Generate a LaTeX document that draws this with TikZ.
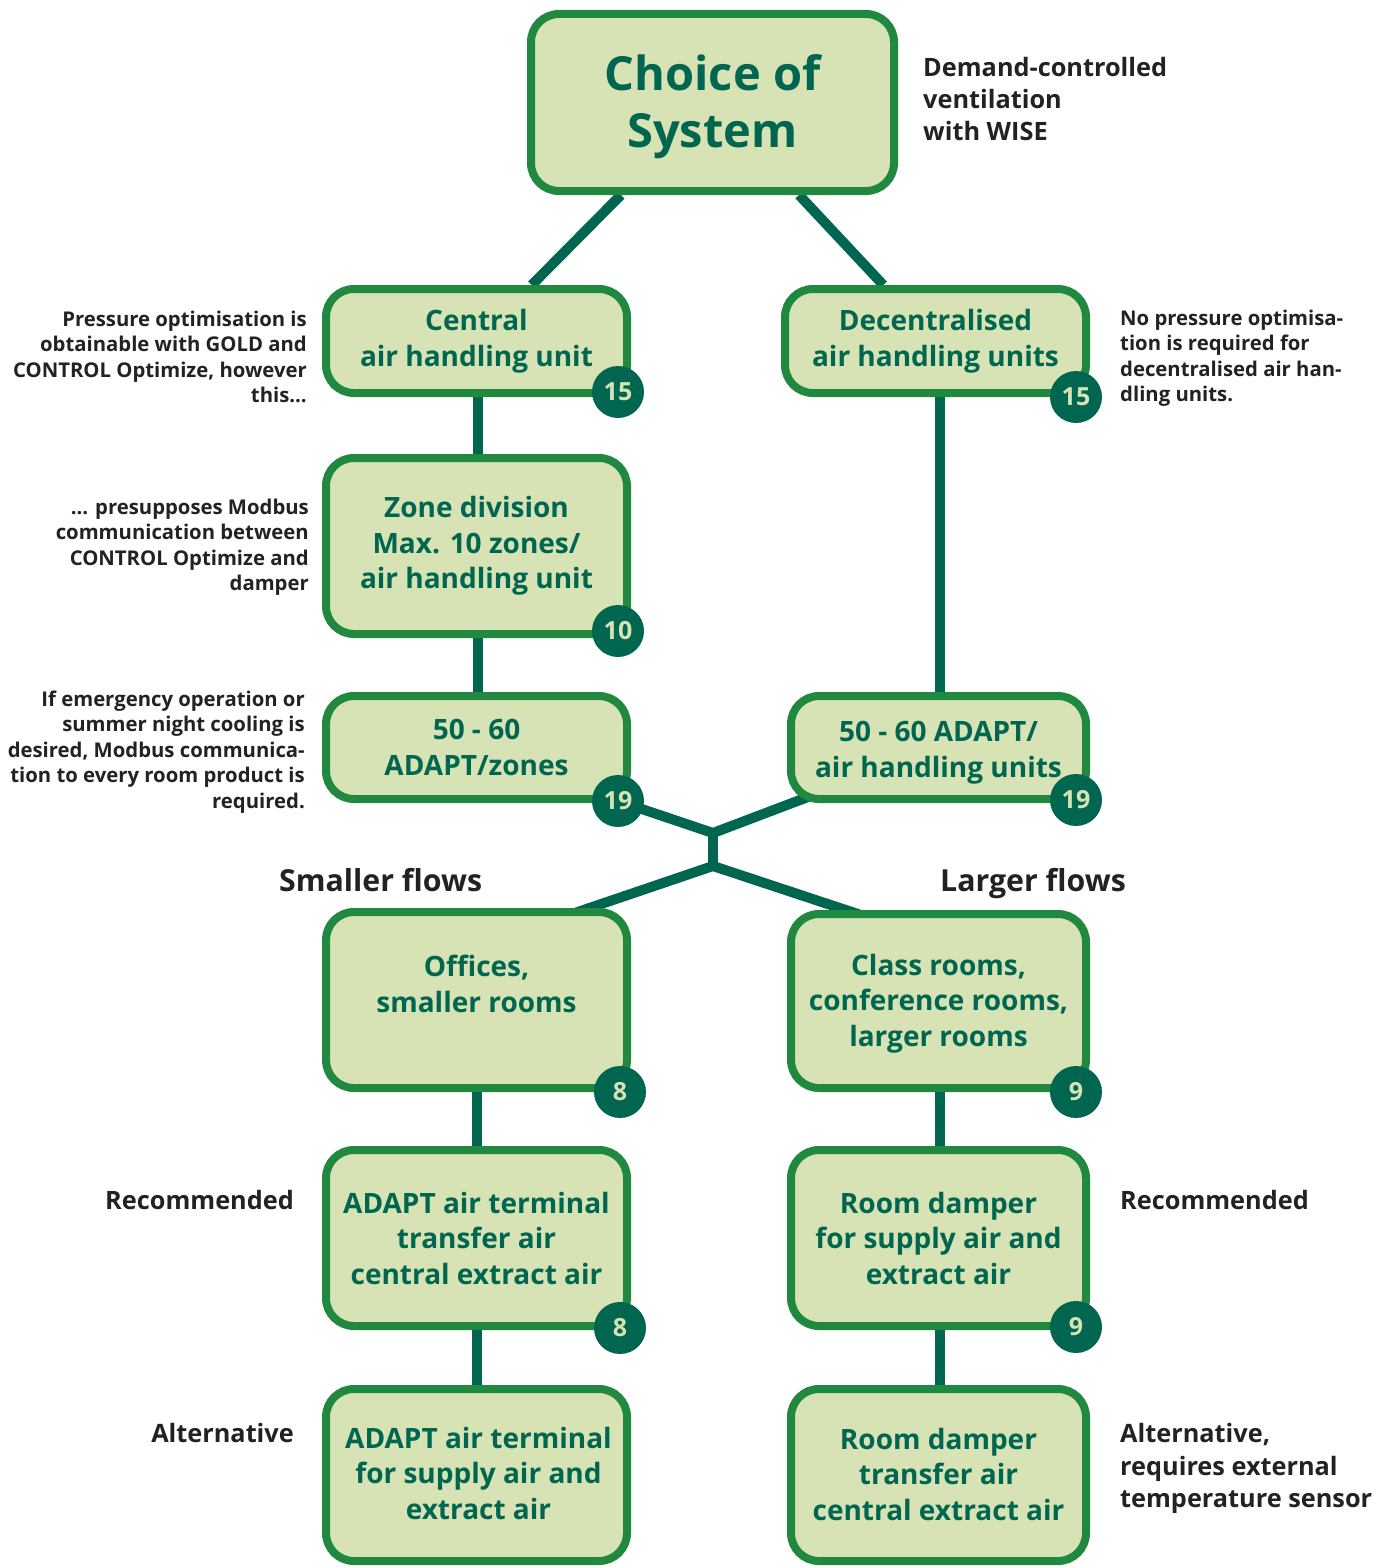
\documentclass[tikz,border=0pt]{standalone}
\usepackage{fontspec}
\setmainfont{Open Sans}
\usetikzlibrary{calc}
\definecolor{boxfill}{HTML}{D7E3B4}
\definecolor{boxline}{HTML}{21893F}
\definecolor{dteal}{HTML}{00664F}
\definecolor{txt}{HTML}{222222}
\pgfdeclarelayer{back}
\pgfdeclarelayer{bg}
\pgfsetlayers{back,bg,main}
\begin{document}
\begin{tikzpicture}[x=1pt,y=-1pt,
  box/.style={draw=boxline, line width=8pt, fill=boxfill, rounded corners=28pt,
    align=center, text=dteal, font=\bfseries\fontsize{28}{35.5}\selectfont, inner sep=0pt},
  boxtext/.style={align=center, text=dteal, font=\bfseries\fontsize{28}{35.5}\selectfont, inner sep=0pt},
  num/.style={circle, fill=dteal, minimum size=52pt, inner sep=0pt, text=boxfill,
    font=\bfseries\fontsize{25}{25}\selectfont},
  conn/.style={draw=dteal, line width=10pt},
  note/.style={text=txt, font=\bfseries\fontsize{20.3}{25.5}\selectfont, inner sep=0pt},
  bignote/.style={text=txt, font=\bfseries\fontsize{25.3}{32.3}\selectfont, inner sep=0pt},
  head/.style={text=txt, font=\bfseries\fontsize{30.3}{32}\selectfont, inner sep=0pt},
]
\begin{pgfonlayer}{back}
\fill[white] (0,0) rectangle (1386,1568);
\end{pgfonlayer}
\useasboundingbox (0,0) rectangle (1386,1568);

% boxes
\node[box, minimum width=363pt, minimum height=177pt] (top) at (712.5,102.5) {};
\node[boxtext, font=\bfseries\fontsize{47}{57}\selectfont] (toptext) at (712.5,107) {Choice of\\System};
\node[box, minimum width=301pt, minimum height=104pt] (central) at (476.5,341) {Central\\air handling unit};
\node[box, minimum width=301pt, minimum height=104pt] (decentral) at (935.5,341) {Decentralised\\air handling units};
\node[box, minimum width=301pt, minimum height=176pt] (zone) at (476.5,546) {Zone division\\Max. 10 zones/\\air handling unit};
\node[box, minimum width=301pt, minimum height=103pt] (adaptL) at (476.5,747.5) {50 - 60\\ADAPT/zones};
\node[box, minimum width=295pt, minimum height=103pt] (adaptR) at (938.5,747.5) {};
\node[boxtext] (adaptRtext) at (938.5,752.5) {50 - 60 ADAPT/\\air handling units};
\node[box, minimum width=301pt, minimum height=176pt] (offices) at (476.5,1000) {};
\node[boxtext] (officestext) at (476.5,984) {Offices,\\smaller rooms};
\node[box, minimum width=295pt, minimum height=174pt] (classrooms) at (938.5,1001) {};
\node[boxtext] (classtext) at (938.5,1003.5) {Class rooms,\\conference rooms,\\larger rooms};
\node[box, minimum width=301pt, minimum height=176pt] (termL) at (476.5,1238) {ADAPT air terminal\\transfer air\\central extract air};
\node[box, minimum width=295pt, minimum height=176pt] (damperR) at (938.5,1238) {Room damper\\for supply air and\\extract air};
\node[box, minimum width=301pt, minimum height=172pt] (termL2) at (476.5,1475) {};
\node[boxtext] (termL2text) at (478.5,1473) {ADAPT air terminal\\for supply air and\\extract air};
\node[box, minimum width=295pt, minimum height=172pt] (damperR2) at (938.5,1475) {};
\node[boxtext] (damperR2text) at (938.5,1474) {Room damper\\transfer air\\central extract air};

% number circles
\node[num] (n15a) at (618,392) {15};
\node[num] (n15b) at (1076,397) {15};
\node[num] (n10) at (618,631) {10};
\node[num] (n19a) at (618,801) {19};
\node[num] (n19b) at (1076,800) {19};
\node[num] (n8a) at (620,1092) {8};
\node[num] (n9a) at (1076,1092) {9};
\node[num] (n8b) at (620,1328) {8};
\node[num] (n9b) at (1076,1327) {9};

% junction coordinates
\coordinate (j1) at (713,833);
\coordinate (j2) at (713,866);
\coordinate (eOff) at (560,918);
\coordinate (eCls) at (870,918);

% connectors
\begin{pgfonlayer}{bg}
\draw[conn] (top) -- (central);
\draw[conn] (top) -- (decentral);
\draw[conn] ($(central.center)+(1.5,0)$) -- ($(zone.center)+(1.5,0)$);
\draw[conn] ($(zone.center)+(1.5,0)$) -- ($(adaptL.center)+(1.5,0)$);
\draw[conn] ($(decentral.center)+(4.5,0)$) -- ($(adaptR.center)+(1.5,0)$);
\draw[conn, line join=miter] (n19a.center) -- (j1) -- (adaptR.center);
\draw[conn] ($(j1)+(0,-3)$) -- ($(j2)+(0,3)$);
\draw[conn, line join=miter] (eOff) -- (j2) -- (eCls);
\draw[conn] ($(offices.center)+(0.5,0)$) -- ($(termL.center)+(0.5,0)$);
\draw[conn] ($(termL.center)+(0.5,0)$) -- ($(termL2.center)+(0.5,0)$);
\draw[conn] ($(classrooms.center)+(1.5,0)$) -- ($(damperR.center)+(1.5,0)$);
\draw[conn] ($(damperR.center)+(1.5,0)$) -- ($(damperR2.center)+(1.5,0)$);
\end{pgfonlayer}

% annotations
\node[bignote, anchor=west, align=left] (wise) at (923,99) {Demand-controlled\\ventilation\\with WISE};
\node[note, anchor=east, align=right] (noteA) at (307,357) {Pressure optimisation is\\obtainable with GOLD and\\CONTROL Optimize, however\\this...};
\node[note, anchor=east, align=right] (noteB) at (309,547) {... presupposes Modbus\\communication between\\CONTROL Optimize and\\damper};
\node[note, anchor=east, align=right] (noteC) at (305,752) {If emergency operation or\\summer night cooling is\\desired, Modbus communica-\\tion to every room product is\\required.};
\node[note, anchor=west, align=left] (noteD) at (1120,358) {No pressure optimisa-\\tion is required for\\decentralised air han-\\dling units.};
\node[head, anchor=base west] (small) at (279,891) {Smaller flows};
\node[head, anchor=base west] (large) at (940,891) {Larger flows};
\node[bignote, anchor=base east] (recL) at (294,1209) {Recommended};
\node[bignote, anchor=base east] (altL) at (294,1442) {Alternative};
\node[bignote, anchor=base west] (recR) at (1120,1209) {Recommended};
\node[bignote, anchor=west, align=left] (altR) at (1120,1468.5) {Alternative,\\requires external\\temperature sensor};
\end{tikzpicture}
\end{document}
